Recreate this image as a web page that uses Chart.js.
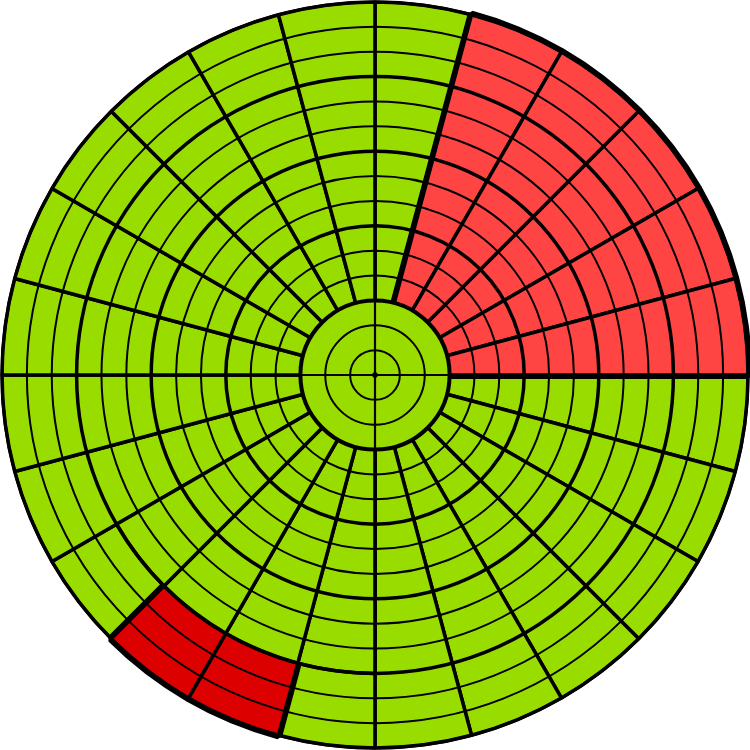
<!DOCTYPE html>
<html>
<head>
<meta charset="utf-8">
<style>
  html, body { margin: 0; padding: 0; background: #ffffff; }
  #wrap { width: 750px; height: 750px; }
  canvas { display: block; }
</style>
<script src="https://cdn.jsdelivr.net/npm/chart.js@4.4.1/dist/chart.umd.min.js"></script>
</head>
<body>
<div id="wrap"><canvas id="c" width="750" height="750"></canvas></div>
<script>
// ---- data (24 sectors of 15°, radius in ring units, 15 rings) ----
const categories = ['0°','15°','30°','45°','60°','75°','90°','105°','120°','135°','150°','165°',
                    '180°','195°','210°','225°','240°','255°','270°','285°','300°','315°','330°','345°'];
const fullRing   = [15,15,15,15,15,15,15,15,15,15,15,15,15,15,15,15,15,15,15,15,15,15,15,15];
const lightRed   = [0,15,15,15,15,15,0,0,0,0,0,0,0,0,0,0,0,0,0,0,0,0,0,0];
const darkRed    = [0,0,0,0,0,0,0,0,0,0,0,0,0,15,15,0,0,0,0,0,0,0,0,0];
const greenCover = [0,0,0,0,0,0,0,0,0,0,0,0,12,12,12,12,0,0,0,0,0,0,0,0];
const innerDisc  = [3,3,3,3,3,3,3,3,3,3,3,3,3,3,3,3,3,3,3,3,3,3,3,3];
const hub        = [0.1,0.1,0.1,0.1,0.1,0.1,0.1,0.1,0.1,0.1,0.1,0.1,0.1,0.1,0.1,0.1,0.1,0.1,0.1,0.1,0.1,0.1,0.1,0.1];
const ringTicks  = { min: 0, max: 15, step: 1 };

// ---- styles ----
const GREEN = '#99DD00';
const LIGHT_RED = '#FF4444';
const DARK_RED = '#DD0000';
const BLACK = '#000000';

const bw = (w) => (c) => (c.raw ? w : 0);

new Chart(document.getElementById('c'), {
  type: 'polarArea',
  data: {
    labels: categories,
    datasets: [
      { label: 'hub', data: hub, backgroundColor: BLACK, borderColor: BLACK, borderWidth: 0.5, clip: false },
      { label: 'inner', data: innerDisc, backgroundColor: GREEN, borderColor: GREEN, borderWidth: 1, clip: false },
      { label: 'cover', data: greenCover, backgroundColor: GREEN, borderColor: BLACK, borderWidth: bw(3.5), clip: false },
      { label: 'darkFill', data: darkRed, backgroundColor: DARK_RED, borderColor: BLACK, borderWidth: bw(3.5), clip: false },
      { label: 'darkOutline', data: darkRed, backgroundColor: DARK_RED, borderColor: BLACK, borderWidth: bw(8), clip: false },
      { label: 'lightFill', data: lightRed, backgroundColor: LIGHT_RED, borderColor: BLACK, borderWidth: bw(3.5), clip: false },
      { label: 'lightOutline', data: lightRed, backgroundColor: LIGHT_RED, borderColor: BLACK, borderWidth: bw(8), clip: false },
      { label: 'base', data: fullRing, backgroundColor: GREEN, borderColor: BLACK, borderWidth: 3.5, clip: false }
    ]
  },
  options: {
    responsive: false,
    animation: false,
    devicePixelRatio: 1,
    layout: { padding: 2 },
    plugins: { legend: { display: false }, tooltip: { enabled: false } },
    scales: {
      r: {
        display: true,
        min: ringTicks.min,
        max: ringTicks.max,
        ticks: { display: false, stepSize: ringTicks.step },
        pointLabels: { display: false },
        grid: {
          circular: true,
          z: 1,
          color: BLACK,
          lineWidth: (c) => {
            const v = c.tick ? c.tick.value : 0;
            if (v === 15) return 3;
            if (v === 3) return 4;
            if (v % 3 === 0) return 3.5;
            return 2;
          }
        },
        angleLines: {
          display: true,
          color: BLACK,
          lineWidth: (c) => (c.index % 6 === 0 ? 2.2 : 0)
        }
      }
    }
  }
});
</script>
</body>
</html>
